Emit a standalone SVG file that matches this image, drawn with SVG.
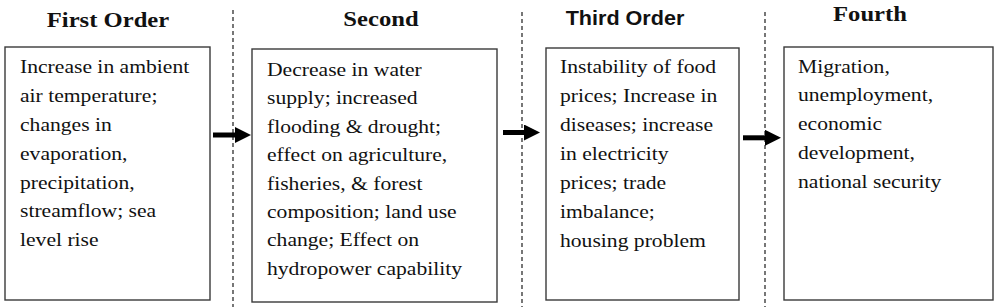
<svg xmlns="http://www.w3.org/2000/svg" width="1000" height="307" viewBox="0 0 1000 307">
<style>
.bg{fill:#fff}
.box{fill:#fff;stroke:#3a3a3a;stroke-width:1.4}
.sep{stroke:#555;stroke-width:1.6;stroke-dasharray:4 3;fill:none}
.hd{font-family:"Liberation Serif","Times New Roman",serif;font-weight:bold;font-size:22px;fill:#111}
.hds{font-family:"Liberation Sans",Arial,sans-serif;font-weight:bold;font-size:20px;fill:#111}
.tx{font-family:"Liberation Serif","Times New Roman",serif;font-size:19.3px;fill:#111}
.arr{stroke:#000;stroke-width:5;fill:none}
</style>
<defs>
<marker id="ah" markerUnits="userSpaceOnUse" viewBox="0 0 16 16" refX="1" refY="8" markerWidth="16" markerHeight="16" orient="auto">
<path d="M0,0 L16,8 L0,16 Z" fill="#000"/>
</marker>
</defs>
<rect class="bg" x="0" y="0" width="1000" height="307"/>
<g id="separators">
<line class="sep" x1="233" y1="10" x2="233" y2="307"/>
<line class="sep" x1="522" y1="12" x2="522" y2="307"/>
<line class="sep" x1="765" y1="12" x2="765" y2="307"/>
</g>
<g id="headers">
<g transform="translate(108,0) scale(1.12,1)"><text class="hd" x="0" y="27" text-anchor="middle">First Order</text></g>
<g transform="translate(381,0) scale(1.12,1)"><text class="hd" x="0" y="26" text-anchor="middle">Second</text></g>
<g transform="translate(625,0) scale(1.08,1)"><text class="hds" x="0" y="25" text-anchor="middle">Third Order</text></g>
<g transform="translate(870,0) scale(1.12,1)"><text class="hd" x="0" y="21" text-anchor="middle">Fourth</text></g>
</g>
<g id="node1">
<rect class="box" x="5" y="47" width="205" height="253"/>
<g transform="translate(20,0) scale(1.12,1)"><text class="tx">
<tspan x="0" y="73.5">Increase in ambient</tspan>
<tspan x="0" y="102.3">air temperature;</tspan>
<tspan x="0" y="131.1">changes in</tspan>
<tspan x="0" y="159.9">evaporation,</tspan>
<tspan x="0" y="188.7">precipitation,</tspan>
<tspan x="0" y="217.5">streamflow; sea</tspan>
<tspan x="0" y="246.3">level rise</tspan>
</text></g>
</g>
<g id="node2">
<rect class="box" x="252" y="49" width="245" height="253"/>
<g transform="translate(267,0) scale(1.12,1)"><text class="tx">
<tspan x="0" y="76">Decrease in water</tspan>
<tspan x="0" y="104.4">supply; increased</tspan>
<tspan x="0" y="132.8">flooding &amp; drought;</tspan>
<tspan x="0" y="161.2">effect on agriculture,</tspan>
<tspan x="0" y="189.6">fisheries, &amp; forest</tspan>
<tspan x="0" y="218">composition; land use</tspan>
<tspan x="0" y="246.4">change; Effect on</tspan>
<tspan x="0" y="274.8">hydropower capability</tspan>
</text></g>
</g>
<g id="node3">
<rect class="box" x="546" y="48" width="193" height="252"/>
<g transform="translate(560,0) scale(1.12,1)"><text class="tx">
<tspan x="0" y="73.5">Instability of food</tspan>
<tspan x="0" y="102.4">prices; Increase in</tspan>
<tspan x="0" y="131.3">diseases; increase</tspan>
<tspan x="0" y="160.2">in electricity</tspan>
<tspan x="0" y="189.1">prices; trade</tspan>
<tspan x="0" y="218">imbalance;</tspan>
<tspan x="0" y="246.9">housing problem</tspan>
</text></g>
</g>
<g id="node4">
<rect class="box" x="784" y="47" width="209" height="253"/>
<g transform="translate(798,0) scale(1.12,1)"><text class="tx">
<tspan x="0" y="72.7">Migration,</tspan>
<tspan x="0" y="101.5">unemployment,</tspan>
<tspan x="0" y="130.3">economic</tspan>
<tspan x="0" y="159.1">development,</tspan>
<tspan x="0" y="187.9">national security</tspan>
</text></g>
</g>
<g id="connectors">
<line class="arr" x1="213" y1="135" x2="236" y2="135" marker-end="url(#ah)"/>
<line class="arr" x1="503" y1="132.5" x2="525" y2="132.5" marker-end="url(#ah)"/>
<line class="arr" x1="743" y1="137.8" x2="766" y2="137.8" marker-end="url(#ah)"/>
</g>
</svg>
